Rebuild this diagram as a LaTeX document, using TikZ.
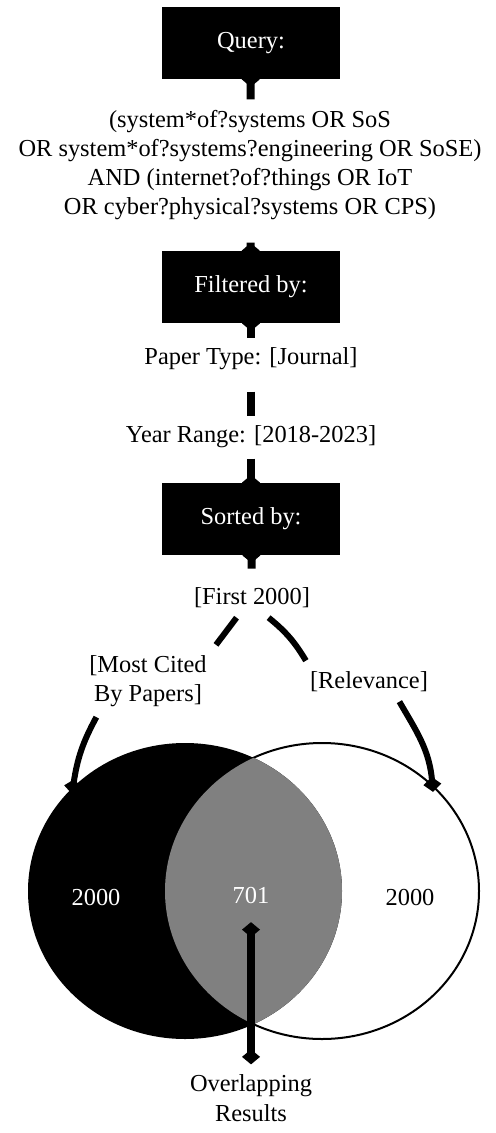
\documentclass[tikz,border=0pt]{standalone}
\usepackage{fontspec}
\setmainfont{Liberation Serif}
\usetikzlibrary{arrows.meta,shapes.geometric}

\begin{document}
\begin{tikzpicture}[x=0.5pt, y=0.5pt,
  every node/.style={font=\fontsize{12.2pt}{14.65pt}\selectfont},
  stage/.style={rectangle, fill=black, text=white, minimum width=89pt, minimum height=36pt, inner sep=0pt},
  txt/.style={inner sep=5pt, align=center},
  set/.style={ellipse, minimum width=157pt, minimum height=148pt, inner sep=0pt},
  link/.style={line width=4pt},
  arc/.style={line width=3pt},
  knob/.tip={Diamond[length=7.5pt, width=9pt]},
  ]
  \useasboundingbox (0,0) rectangle (495,-1133);

  % Define the stages
  \node[stage] (query) at (251,-43) {Query:};
  \node[txt] (terms) at (250,-165) {(system*of?systems OR SoS\\OR system*of?systems?engineering OR SoSE)\\AND (internet?of?things OR IoT\\OR cyber?physical?systems OR CPS)};
  \node[stage] (filter) at (251,-287) {Filtered by:};
  \node[txt, anchor=base] (ptype) at (251,-365) {Paper Type: [Journal]};
  \node[txt, anchor=base] (yrange) at (251,-443) {Year Range: [2018-2023]};
  \node[stage] (sort) at (251,-519) {Sorted by:};
  \node[txt, anchor=base] (first) at (252,-604) {[First 2000]};
  \node[txt] (cited) at (148,-681) {[Most Cited\\By Papers]};
  \node[txt, anchor=base] (rel) at (369,-688) {[Relevance]};

  % Define the two result sets
  \node[set, fill=white, draw, line width=1pt] (rset) at (322,-891) {};
  \node[set, fill=black] (lset) at (185,-891) {};
  \begin{scope}
    \clip (185,-891) ellipse [x radius=157, y radius=148];
    \fill[gray] (322,-891) ellipse [x radius=157, y radius=148];
  \end{scope}
  \node[text=white] (lnum) at (96,-897) {2000};
  \node[text=white, inner sep=5pt] (inter) at (251,-895) {701};
  \node (rnum) at (410,-897) {2000};
  \node[txt] (overlap) at (251,-1098) {Overlapping\\Results};

  % Draw the connectors
  \draw[link, knob-, shorten <=-3.75pt] (query) -- (terms);
  \draw[link, -knob, shorten <=6pt, shorten >=-3.75pt] (terms) -- (filter);
  \draw[link, knob-, shorten <=-3.75pt] (filter) -- (ptype);
  \draw[link, shorten <=5.5pt] (ptype) -- (yrange);
  \draw[link, -knob, shorten >=-3.75pt] (yrange) -- (sort);
  \draw[link, knob-, shorten <=-3.75pt, shorten >=4pt] (sort) -- (first);
  \draw[arc] (first.233) -- (cited.28);
  \draw[arc, -knob, shorten >=-3.75pt] (cited.215) to[bend right=10] (lset.137);
  \draw[arc] (first.-51) to[bend left=10] (rel.162);
  \draw[arc, -knob, shorten >=-3.75pt] (rel.-34) to[out=-60, in=95] (rset.44);
  \draw[link, knob-knob, shorten >=4.25pt] (overlap) -- (inter);
\end{tikzpicture}
\end{document}
